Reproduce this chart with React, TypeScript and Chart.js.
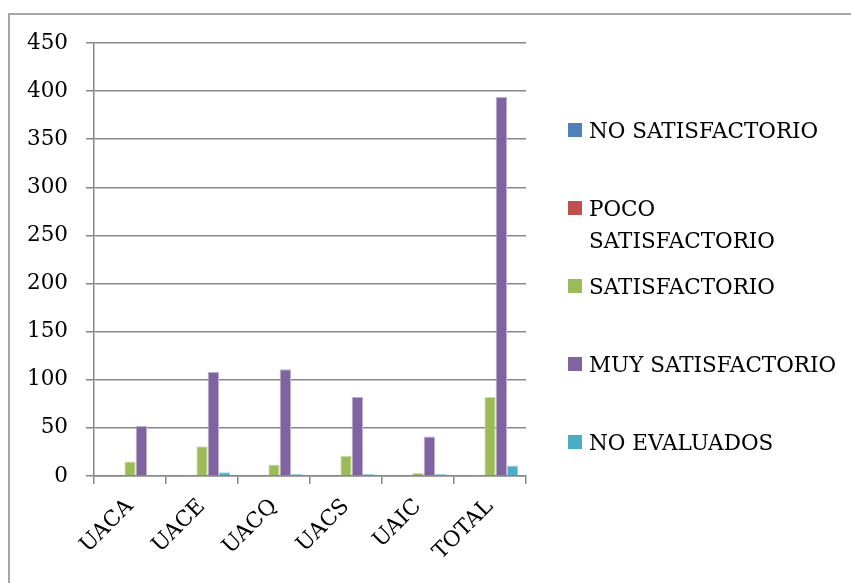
import React, { useEffect, useRef } from "react";
import { Chart, registerables } from "chart.js";

Chart.register(...registerables);

const categories = ["UACA", "UACE", "UACQ", "UACS", "UAIC", "TOTAL"];
const noSatisfactorio = [0, 0, 0, 0, 0, 0];
const pocoSatisfactorio = [0, 1, 0, 0, 0, 1];
const satisfactorio = [15, 31, 12, 21, 3, 82];
const muySatisfactorio = [52, 108, 111, 82, 41, 394];
const noEvaluados = [1, 4, 2, 2, 2, 11];
const seriesNames = [
  "NO SATISFACTORIO",
  "POCO SATISFACTORIO",
  "SATISFACTORIO",
  "MUY SATISFACTORIO",
  "NO EVALUADOS",
];
const seriesColors = ["#4f81bd", "#c0504d", "#9bbb59", "#8064a2", "#4bacc6"];
const seriesBorders = ["#a7c0de", "#e0a8a6", "#cdddac", "#bfb1d0", "#a5d5e2"];
const yMin = 0;
const yMax = 450;
const yStep = 50;

const FONT_FAMILY = '"DejaVu Serif", serif';
const FONT_SIZE = 21.5;

function wrapText(ctx: CanvasRenderingContext2D, text: string, maxWidth: number): string[] {
  const words = text.split(" ");
  const lines: string[] = [];
  let cur = "";
  for (const w of words) {
    const test = cur ? cur + " " + w : w;
    if (ctx.measureText(test).width > maxWidth && cur) {
      lines.push(cur);
      cur = w;
    } else {
      cur = test;
    }
  }
  if (cur) lines.push(cur);
  return lines;
}

const sideLegend = {
  id: "sideLegend",
  afterDraw(chart: any) {
    const ctx = chart.ctx as CanvasRenderingContext2D;
    ctx.save();
    ctx.font = `${FONT_SIZE}px ${FONT_FAMILY}`;
    ctx.textBaseline = "alphabetic";
    ctx.textAlign = "left";
    chart.data.datasets.forEach((ds: any, i: number) => {
      const cy = 130 + i * 78;
      ctx.fillStyle = ds.backgroundColor;
      ctx.fillRect(568, cy - 7, 14, 14);
      ctx.fillStyle = "#000";
      const lines = wrapText(ctx, ds.label, 252);
      lines.forEach((ln, j) => ctx.fillText(ln, 589, cy + 8 + j * 32));
    });
    ctx.restore();
  },
};

export default function App() {
  const ref = useRef<HTMLCanvasElement | null>(null);

  useEffect(() => {
    if (!ref.current) return;
    const values = [noSatisfactorio, pocoSatisfactorio, satisfactorio, muySatisfactorio, noEvaluados];
    const font = { family: FONT_FAMILY, size: FONT_SIZE };
    const chart = new Chart(ref.current, {
      type: "bar",
      data: {
        labels: categories,
        datasets: values.map((v, i) => ({
          label: seriesNames[i],
          data: v,
          backgroundColor: seriesColors[i],
          borderColor: seriesBorders[i],
          borderWidth: 1,
          borderSkipped: "start",
          categoryPercentage: 0.787,
          barPercentage: 1,
        })),
      },
      options: {
        animation: false,
        responsive: false,
        devicePixelRatio: 1,
        layout: { padding: { left: 0, top: 43, right: 325, bottom: 0 } },
        plugins: {
          legend: { display: false },
          tooltip: { enabled: false },
        },
        scales: {
          x: {
            grid: {
              drawOnChartArea: false,
              drawTicks: true,
              tickLength: 8,
              color: "#888888",
              lineWidth: 1.5,
              offset: true,
            },
            border: { display: true, color: "#888888", width: 1.5 },
            ticks: {
              minRotation: 45,
              maxRotation: 45,
              padding: 10,
              color: "#000",
              font,
              autoSkip: false,
            },
            afterFit(s: any) {
              s.height = 107;
            },
          },
          y: {
            min: yMin,
            max: yMax,
            ticks: { stepSize: yStep, padding: 18, color: "#000", font },
            grid: { color: "#888888", lineWidth: 1.5, tickLength: 8, drawTicks: true },
            border: { display: true, color: "#888888", width: 1.5 },
            afterFit(s: any) {
              s.width = 94;
            },
          },
        },
      },
      plugins: [sideLegend],
    });
    return () => chart.destroy();
  }, []);

  return (
    <div style={{ position: "fixed", left: 0, top: 0, width: 851, height: 583, overflow: "hidden", background: "#fff" }}>
      <div
        style={{
          position: "absolute",
          left: 8,
          top: 13,
          width: 1000,
          height: 1000,
          borderLeft: "2px solid #a6a6a6",
          borderTop: "2px solid #a6a6a6",
        }}
      />
      <canvas ref={ref} width={851} height={583} style={{ position: "absolute", left: 0, top: 0, display: "block" }} />
    </div>
  );
}
